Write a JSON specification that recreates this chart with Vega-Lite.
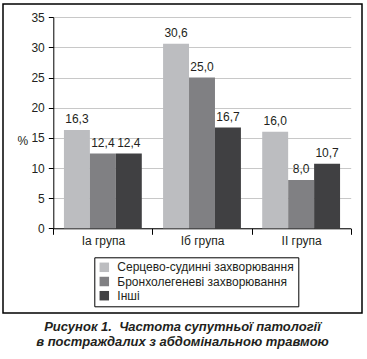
{
  "$schema": "https://vega.github.io/schema/vega-lite/v6.json",
  "width": 359,
  "height": 309,
  "autosize": "none",
  "padding": {"left": 3, "top": 4, "right": 5, "bottom": 46},
  "data": {
    "values": [
      {"group": "Іа група", "series": "Серцево-судинні захворювання", "value": 16.3},
      {"group": "Іа група", "series": "Бронхолегеневі захворювання", "value": 12.4},
      {"group": "Іа група", "series": "Інші", "value": 12.4},
      {"group": "Іб група", "series": "Серцево-судинні захворювання", "value": 30.6},
      {"group": "Іб група", "series": "Бронхолегеневі захворювання", "value": 25.0},
      {"group": "Іб група", "series": "Інші", "value": 16.7},
      {"group": "ІІ група", "series": "Серцево-судинні захворювання", "value": 16.0},
      {"group": "ІІ група", "series": "Бронхолегеневі захворювання", "value": 8.0},
      {"group": "ІІ група", "series": "Інші", "value": 10.7}
    ]
  },
  "title": {
    "text": ["Рисунок 1.\u00a0 Частота супутньої патології", "в постраждалих з абдомінальною травмою"],
    "orient": "bottom",
    "anchor": "middle",
    "font": "Liberation Sans",
    "fontSize": 13,
    "fontWeight": "bold",
    "fontStyle": "italic",
    "color": "#231f20",
    "offset": 8,
    "lineHeight": 15
  },
  "encoding": {
    "x": {
      "field": "group",
      "type": "nominal",
      "sort": null,
      "scale": {"range": [50.3, 347.7], "paddingInner": 0, "paddingOuter": 0},
      "axis": {
        "orient": "bottom",
        "offset": -84.7,
        "title": null,
        "labelAngle": 0,
        "tickBand": "extent",
        "tickSize": 6,
        "tickColor": "#000",
        "domainColor": "#000",
        "labelPadding": 1,
        "labelFontSize": 12,
        "labelColor": "#231f20",
        "grid": false
      }
    },
    "xOffset": {
      "field": "series",
      "type": "nominal",
      "sort": null,
      "scale": {"paddingInner": 0, "paddingOuter": 0.41}
    },
    "y": {
      "field": "value",
      "type": "quantitative",
      "scale": {"domain": [0, 35], "range": [224.3, 13.3], "nice": false},
      "axis": {
        "orient": "left",
        "offset": -50.3,
        "values": [0, 5, 10, 15, 20, 25, 30, 35],
        "grid": true,
        "gridColor": "#c8c8c8",
        "domainColor": "#000",
        "tickColor": "#000",
        "tickSize": 5,
        "labelPadding": 4,
        "labelFontSize": 12,
        "labelColor": "#231f20",
        "title": "%",
        "titleAngle": 0,
        "titleX": -31,
        "titleY": 136,
        "titleAlign": "center",
        "titleBaseline": "middle",
        "titleFontSize": 12,
        "titleFontWeight": "normal",
        "titleColor": "#231f20"
      }
    }
  },
  "layer": [
    {
      "mark": {"type": "bar"},
      "encoding": {
        "color": {
          "field": "series",
          "type": "nominal",
          "sort": null,
          "scale": {
            "domain": ["Серцево-судинні захворювання", "Бронхолегеневі захворювання", "Інші"],
            "range": ["#bcbdc0", "#808083", "#404042"]
          },
          "legend": {
            "orient": "none",
            "legendX": 91.3,
            "legendY": 253.3,
            "title": null,
            "strokeColor": "#000",
            "fillColor": "#fff",
            "padding": 4,
            "symbolType": "square",
            "symbolSize": 90,
            "symbolStrokeWidth": 0,
            "labelFontSize": 12,
            "labelLimit": 400,
            "labelColor": "#231f20",
            "rowPadding": 2.2,
            "labelOffset": 7
          }
        }
      }
    },
    {
      "mark": {"type": "text", "baseline": "bottom", "dy": -4, "fontSize": 12, "color": "#231f20"},
      "encoding": {
        "text": {"field": "value", "type": "quantitative", "format": ".1f"}
      }
    }
  ],
  "config": {
    "font": "Liberation Sans",
    "locale": {"number": {"decimal": ",", "thousands": " ", "grouping": [3], "currency": ["", ""]}},
    "view": {"stroke": "#000", "strokeWidth": 1.5},
    "background": "#ffffff"
  }
}
